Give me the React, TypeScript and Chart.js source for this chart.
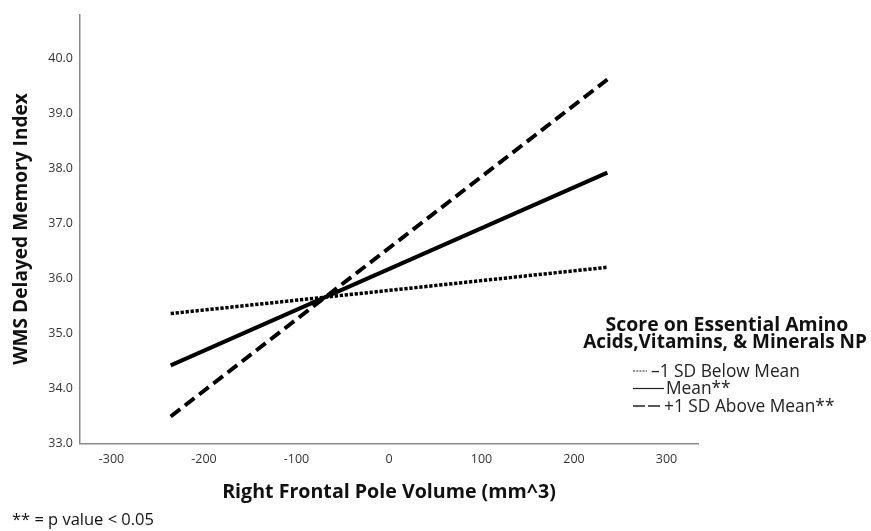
import React, { useEffect, useRef } from "react";
import { Chart, registerables } from "chart.js";

Chart.register(...registerables);

// ---- data ----
const xEnds: number[] = [-236, 236];
const belowMean: number[] = [35.36, 36.2];
const meanLine: number[] = [34.42, 37.92];
const aboveMean: number[] = [33.49, 39.61];
const seriesLabels: string[] = ["–1 SD Below Mean", "Mean**", "+1 SD Above Mean**"];
const yTicks: number[] = [33, 34, 35, 36, 37, 38, 39, 40];
const xTicks: number[] = [-300, -200, -100, 0, 100, 200, 300];
const xTitle = "Right Frontal Pole Volume (mm^3)";
const yTitle = "WMS Delayed Memory Index";
const legendTitle: string[] = ["Score on Essential Amino", "Acids,Vitamins, & Minerals NP"];
const footnote = "** = p value < 0.05";

const FAMILY = '"Open Sans", "DejaVu Sans", sans-serif';

function fitFont(ctx: CanvasRenderingContext2D, text: string, width: number, weight: string) {
  ctx.font = `${weight} 20px ${FAMILY}`;
  const w = ctx.measureText(text).width;
  const size = (20 * width) / w;
  return `${weight} ${size.toFixed(2)}px ${FAMILY}`;
}

const overlayPlugin = {
  id: "overlay",
  afterDraw(chart: any) {
    const ctx: CanvasRenderingContext2D = chart.ctx;
    ctx.save();
    ctx.fillStyle = "#111";
    ctx.textBaseline = "middle";

    // x title
    ctx.font = fitFont(ctx, xTitle, 334, "bold");
    ctx.textAlign = "center";
    ctx.fillText(xTitle, 389, 492);

    // y title
    ctx.save();
    ctx.translate(22, 229);
    ctx.rotate(-Math.PI / 2);
    ctx.font = fitFont(ctx, yTitle, 272, "bold");
    ctx.fillText(yTitle, 0, 0);
    ctx.restore();

    // footnote
    ctx.textAlign = "left";
    ctx.font = fitFont(ctx, footnote, 142, "normal");
    ctx.fillText(footnote, 12, 520);

    // legend title
    ctx.textAlign = "center";
    ctx.font = fitFont(ctx, legendTitle[0], 243, "bold");
    ctx.fillText(legendTitle[0], 727, 325);
    ctx.font = fitFont(ctx, legendTitle[1], 284, "bold");
    ctx.fillText(legendTitle[1], 725, 343);

    // legend items
    const itemFont = fitFont(ctx, seriesLabels[0], 149, "normal");
    const rows = [
      { y: 371, x0: 633, x1: 647, dash: [2, 1.2], w: 1.2, tx: 651 },
      { y: 388.5, x0: 633, x1: 664, dash: [], w: 1.2, tx: 666 },
      { y: 406, x0: 633, x1: 660, dash: [12, 3], w: 1.4, tx: 664 },
    ];
    rows.forEach((r, i) => {
      ctx.beginPath();
      ctx.setLineDash(r.dash);
      ctx.lineWidth = r.w;
      ctx.strokeStyle = "#222";
      ctx.moveTo(r.x0, r.y);
      ctx.lineTo(r.x1, r.y);
      ctx.stroke();
      ctx.setLineDash([]);
      ctx.textAlign = "left";
      ctx.font = itemFont;
      ctx.fillStyle = "#222";
      ctx.fillText(seriesLabels[i], r.tx, r.y + 1);
    });
    ctx.restore();
  },
};

export default function App() {
  const ref = useRef<HTMLCanvasElement | null>(null);
  useEffect(() => {
    if (!ref.current) return;
    const mk = (vals: number[]) => xEnds.map((x, i) => ({ x, y: vals[i] }));
    const chart = new Chart(ref.current, {
      type: "line",
      data: {
        datasets: [
          {
            label: seriesLabels[0],
            data: mk(belowMean),
            borderColor: "#000",
            borderWidth: 3.5,
            borderDash: [3.3, 1.7],
            pointRadius: 0,
            borderCapStyle: "butt",
          },
          {
            label: seriesLabels[1],
            data: mk(meanLine),
            borderColor: "#000",
            borderWidth: 4,
            pointRadius: 0,
          },
          {
            label: seriesLabels[2],
            data: mk(aboveMean),
            borderColor: "#000",
            borderWidth: 4,
            borderDash: [12, 6],
            pointRadius: 0,
            borderCapStyle: "butt",
          },
        ],
      },
      options: {
        animation: false,
        responsive: false,
        devicePixelRatio: 1,
        layout: { padding: { left: 0, top: 13, right: 173, bottom: 0 } },
        plugins: { legend: { display: false }, tooltip: { enabled: false } },
        scales: {
          x: {
            type: "linear",
            min: -334,
            max: 334,
            afterBuildTicks: (s: any) => {
              s.ticks = xTicks.map((v) => ({ value: v }));
            },
            afterFit: (s: any) => {
              s.height = 87.5;
            },
            grid: { display: false, drawTicks: false },
            border: { display: true, color: "#8a8a8a", width: 1.5 },
            ticks: {
              padding: 8,
              color: "#333",
              font: { family: FAMILY, size: 12.5 },
              maxRotation: 0,
              callback: (v: any) => String(v),
            },
          },
          y: {
            type: "linear",
            min: 33,
            max: 40.79,
            afterBuildTicks: (s: any) => {
              s.ticks = yTicks.map((v) => ({ value: v }));
            },
            afterFit: (s: any) => {
              s.width = 80;
            },
            grid: { display: false, drawTicks: false },
            border: { display: true, color: "#8a8a8a", width: 1.5 },
            ticks: {
              padding: 7,
              color: "#333",
              font: { family: FAMILY, size: 12.5 },
              callback: (v: any) => Number(v).toFixed(1),
            },
          },
        },
      },
      plugins: [overlayPlugin],
    } as any);
    return () => chart.destroy();
  }, []);
  return (
    <div style={{ position: "absolute", left: 0, top: 0, width: 871, height: 531, background: "#fff" }}>
      <canvas ref={ref} width={871} height={531} style={{ width: 871, height: 531, display: "block" }} />
    </div>
  );
}
